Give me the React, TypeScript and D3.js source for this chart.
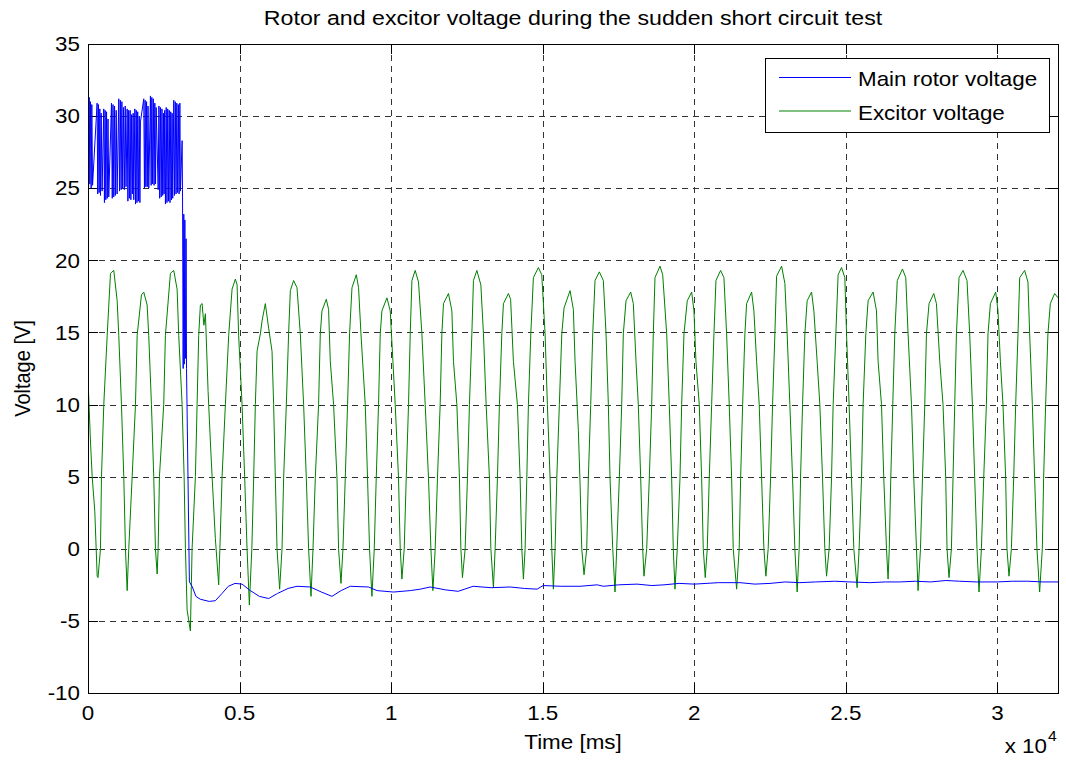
import React from "react";
import * as d3 from "d3";

const W = 1066;
const H = 769;
const M = { left: 88, right: 1058, top: 44, bottom: 693 };

const xTicks = [0, 5000, 10000, 15000, 20000, 25000, 30000];
const xTickLabels = ["0", "0.5", "1", "1.5", "2", "2.5", "3"];
const yTicks = [-10, -5, 0, 5, 10, 15, 20, 25, 30, 35];

const seriesNames = ["Main rotor voltage", "Excitor voltage"];
const seriesColors = ["#0000ff", "#008000"];

// Main rotor voltage [ms, V]
const rotorPoints: [number, number][] = [
  [0, 31.4], [20, 25.1], [40, 31.3], [60, 25.3], [82, 31.0], [104, 25.0], [126, 30.8], [150, 25.2],
  [300, 30.9], [322, 24.6], [345, 30.8], [368, 24.7], [390, 30.5], [412, 24.5], [435, 30.2], [465, 24.8],
  [520, 30.5], [542, 24.0], [565, 30.4], [588, 24.2], [612, 30.3], [636, 24.3], [660, 29.8], [685, 24.4],
  [775, 30.9], [800, 24.3], [825, 30.8], [850, 24.4], [876, 30.7], [902, 24.5], [930, 30.4], [960, 24.6],
  [1015, 31.2], [1040, 24.8], [1066, 31.1], [1092, 24.9], [1118, 31.0], [1145, 25.0], [1172, 30.6], [1200, 24.9], [1228, 30.7], [1255, 25.1],
  [1292, 30.5], [1316, 24.1], [1340, 30.4], [1365, 24.3], [1390, 30.4], [1415, 24.2], [1440, 30.1], [1465, 24.6], [1490, 30.2], [1510, 24.2],
  [1545, 30.5], [1568, 23.9], [1592, 30.4], [1615, 24.0], [1640, 30.3], [1665, 24.1], [1690, 30.0], [1712, 24.0], [1730, 29.6],
  [1840, 31.2], [1862, 25.0], [1885, 31.1], [1908, 25.1], [1932, 31.0], [1955, 25.1], [1980, 30.7], [2005, 25.0],
  [2060, 31.4], [2083, 25.2], [2106, 31.3], [2130, 25.3], [2155, 31.2], [2180, 25.2], [2205, 30.9], [2228, 25.3], [2248, 30.6],
  [2315, 24.9], [2340, 30.7], [2365, 24.3], [2390, 30.6], [2415, 24.4], [2440, 30.5], [2465, 24.5], [2490, 30.2], [2510, 24.6], [2530, 30.4],
  [2555, 23.9], [2580, 30.6], [2605, 24.0], [2630, 30.5], [2655, 24.1], [2680, 30.4], [2705, 24.0], [2730, 30.3], [2755, 24.2], [2775, 30.2], [2795, 24.3],
  [2830, 31.1], [2855, 24.5], [2880, 31.0], [2905, 24.6], [2930, 30.9], [2955, 24.7], [2980, 30.8], [3005, 24.6], [3030, 30.9], [3050, 24.8],
  [3105, 28.3], [3118, 24.9], [3140, 12.5], [3160, 23.2], [3175, 12.8], [3195, 22.8], [3215, 13.2],
  [3235, 21.5], [3250, 12.5], [3345, -2.3], [3434, -2.6], [3560, -3.3], [3708, -3.5], [4000, -3.65],
  [4202, -3.6], [4420, -3.1], [4631, -2.6], [4850, -2.4], [5082, -2.45], [5356, -2.9], [5650, -3.3],
  [5959, -3.45], [6250, -3.1], [6600, -2.75], [6895, -2.6], [7334, -2.65], [7700, -3.0], [8049, -3.3],
  [8350, -2.9], [8652, -2.6], [9255, -2.65], [9532, -2.9], [10079, -3.0], [10630, -2.9], [10959, -2.8],
  [11289, -2.65], [11800, -2.85], [12212, -2.95], [12706, -2.6], [13300, -2.7], [13925, -2.65],
  [14400, -2.75], [14815, -2.8], [15013, -2.55], [15600, -2.6], [16233, -2.6], [16800, -2.5],
  [17000, -2.6], [17500, -2.5], [18112, -2.45], [18600, -2.55], [19000, -2.5], [19500, -2.4],
  [20000, -2.45], [20800, -2.35], [21507, -2.35], [22000, -2.45], [22500, -2.4], [23000, -2.3],
  [23484, -2.35], [24000, -2.3], [24638, -2.25], [25133, -2.3], [25792, -2.35], [26300, -2.3],
  [26780, -2.3], [27300, -2.25], [27800, -2.3], [28300, -2.2], [28757, -2.25], [29300, -2.3],
  [30000, -2.3], [30500, -2.25], [31000, -2.25], [31500, -2.3], [32000, -2.3],
];

// Excitor voltage [ms, V]
const excitorPoints: [number, number][] = [
  [0, 15.6], [15, 11.0], [82, 7.4], [138, 5.0], [224, 2.6], [303, -1.9], [330, -2.0],
  [412, 0], [445, 5], [521, 10], [633, 14.8], [742, 19.1], [850, 19.3], [962, 17.2], [1015, 14.8], [1104, 10], [1180, 5], [1236, 0], [1292, -2.9],
  [1345, 0], [1457, 5], [1566, 10], [1622, 14.8], [1763, 17.6], [1839, 17.8], [1951, 16.9], [2004, 14.8], [2093, 10], [2169, 5], [2225, 0], [2281, -1.75],
  [2314, 0], [2357, 5], [2498, 10], [2554, 14.8], [2719, 19.1], [2828, 19.3], [2940, 18], [2993, 14.8], [3105, 10], [3171, 5], [3214, 0], [3270, -4.25], [3378, -5.7],
  [3434, 0], [3543, 5], [3599, 10], [3652, 14.8], [3708, 16.9], [3764, 17.0], [3823, 15.5], [3873, 16.3], [3962, 10.9], [4038, 7.4], [4094, 5], [4202, 0.7], [4311, -2.5],
  [4351, 0], [4423, 5], [4532, 10], [4641, 14.8], [4753, 18], [4862, 18.7], [4918, 18.3], [4970, 14.8], [5082, 10], [5168, 5], [5247, 0], [5323, -3.9],
  [5405, 0], [5465, 4.9], [5521, 10], [5577, 13.7], [5686, 14.9], [5742, 15.8], [5850, 17.0], [5959, 15.3], [6071, 13.7], [6124, 10], [6180, 4.9], [6236, 0], [6322, -2.8],
  [6401, 0], [6454, 4.9], [6543, 10], [6618, 14.9], [6675, 17.9], [6783, 18.6], [6895, 18.1], [7004, 14.9], [7113, 10], [7202, 4.9], [7278, 0], [7357, -3.3],
  [7423, 0], [7498, 4.9], [7607, 10], [7663, 14.9], [7719, 16.5], [7861, 17.3], [7937, 16.6], [7993, 13], [8102, 10], [8214, 4.9], [8266, 0], [8346, -2.4],
  [8411, 0], [8487, 4.9], [8563, 10], [8629, 14.9], [8708, 18.1], [8850, 19.0], [8926, 18.1], [9005, 14.9], [9146, 10], [9222, 4.9], [9288, 0], [9367, -3.3],
  [9443, 0], [9509, 4.9], [9585, 10], [9641, 14.9], [9697, 16.5], [9862, 17.4], [9970, 16.5], [10059, 13], [10135, 10], [10244, 4.9], [10300, 0], [10356, -2.1],
  [10432, 0], [10498, 4.9], [10574, 10], [10630, 14.9], [10686, 18.6], [10794, 19.3], [10903, 18.5], [11015, 14.9], [11124, 10], [11233, 4.9], [11312, 0], [11378, -2.9],
  [11454, 0], [11529, 4.9], [11618, 10], [11674, 14.9], [11727, 17.0], [11892, 17.7], [12004, 16.5], [12057, 13], [12169, 10], [12254, 4.9], [12301, 0], [12353, -2.0],
  [12442, 0], [12518, 4.9], [12584, 10], [12663, 14.9], [12716, 18.6], [12828, 19.3], [12960, 18.3], [13046, 14.9], [13135, 10], [13243, 4.9], [13290, 0], [13375, -2.7],
  [13431, 0], [13507, 4.9], [13573, 10], [13652, 14.9], [13705, 17], [13870, 17.7], [13942, 17.3], [14034, 13], [14166, 10], [14255, 4.9], [14311, 0], [14364, -2.1],
  [14420, 0], [14476, 4.9], [14529, 10], [14608, 14.9], [14693, 18.8], [14858, 19.5], [14970, 19.0], [15079, 14.9], [15155, 10], [15244, 4.9], [15300, 0], [15353, -2.8],
  [15409, 0], [15465, 4.9], [15550, 10], [15630, 14.9], [15705, 16.7], [15903, 17.9], [16012, 16.6], [16068, 13], [16177, 8.2], [16233, 4.5], [16289, 0], [16364, -1.8],
  [16453, 0], [16506, 4.9], [16585, 10], [16651, 14.9], [16727, 18.6], [16869, 19.2], [17001, 18.6], [17090, 14.9], [17166, 10], [17222, 4.9], [17311, 0], [17386, -3.0],
  [17442, 0], [17528, 4.9], [17607, 10], [17660, 14.9], [17749, 17.2], [17904, 17.8], [17990, 17.0], [18079, 13], [18154, 10], [18233, 4.9], [18299, 0], [18342, -1.9],
  [18431, 0], [18517, 4.9], [18596, 10], [18649, 14.9], [18705, 18.8], [18870, 19.6], [18959, 19.0], [19091, 14.9], [19176, 10], [19255, 4.9], [19308, 0], [19364, -2.8],
  [19440, 0], [19529, 4.9], [19585, 10], [19661, 14.9], [19770, 17.2], [19915, 17.8], [19990, 16.5], [20056, 13], [20165, 10], [20244, 4.9], [20297, 0], [20363, -2.0],
  [20429, 0], [20495, 4.9], [20574, 10], [20650, 14.9], [20716, 18.6], [20870, 19.3], [20979, 18.8], [21068, 14.9], [21154, 10], [21233, 4.9], [21286, 0], [21398, -2.8],
  [21483, 0], [21530, 4.9], [21596, 10], [21671, 14.9], [21727, 17], [21892, 17.8], [21968, 16.5], [22057, 13], [22143, 10], [22222, 4.9], [22297, 0], [22363, -1.9],
  [22439, 0], [22518, 4.9], [22584, 10], [22660, 14.9], [22716, 18.9], [22881, 19.6], [22990, 18.4], [23065, 14.9], [23154, 10], [23243, 4.9], [23319, 0], [23395, -3.0],
  [23461, 0], [23507, 4.9], [23573, 10], [23649, 14.9], [23725, 17.2], [23870, 17.8], [23946, 16.5], [24054, 13], [24143, 10], [24232, 4.9], [24308, 0], [24364, -1.9],
  [24450, 0], [24529, 4.9], [24582, 10], [24671, 14.9], [24746, 19.0], [24859, 19.5], [24968, 18.8], [25024, 14.9], [25109, 10], [25188, 4.9], [25264, 0], [25373, -2.7],
  [25439, 0], [25518, 4.9], [25571, 10], [25660, 14.9], [25736, 17.2], [25900, 17.8], [26012, 16.5], [26065, 13], [26177, 10], [26253, 4.9], [26342, 0], [26394, -2.1],
  [26434, 0], [26483, 4.9], [26549, 10], [26615, 14.9], [26698, 18.6], [26869, 19.4], [26978, 18.8], [27054, 14.9], [27166, 10], [27242, 4.9], [27331, 0], [27384, -2.9],
  [27463, 0], [27529, 4.9], [27605, 10], [27660, 14.9], [27746, 17], [27901, 17.7], [27990, 17.0], [28099, 13], [28207, 10], [28296, 4.9], [28339, 0], [28405, -2.0],
  [28484, 0], [28537, 4.9], [28593, 10], [28649, 14.9], [28735, 18.8], [28866, 19.3], [28998, 18.6], [29087, 14.9], [29176, 10], [29252, 4.9], [29328, 0], [29394, -3.0],
  [29473, 0], [29549, 4.9], [29638, 10], [29691, 14.9], [29770, 17], [29945, 17.8], [30020, 16.5], [30099, 13], [30185, 10], [30274, 4.9], [30317, 0], [30383, -1.9],
  [30462, 0], [30538, 4.9], [30604, 10], [30680, 14.9], [30736, 18.8], [30900, 19.3], [31009, 18.5], [31065, 14.9], [31154, 10], [31229, 4.9], [31305, 0], [31394, -3.0],
  [31483, 0], [31526, 4.9], [31592, 10], [31668, 14.9], [31747, 17], [31889, 17.7], [32000, 17.4],
];

const FONT = "'Liberation Sans', Arial, Helvetica, sans-serif";
const FS = 20;
const SX = 1.12; // horizontal stretch of the reference rendering

function T({
  x,
  y,
  size = FS,
  anchor = "start",
  rotate = 0,
  dy,
  children,
}: {
  x: number;
  y: number;
  size?: number;
  anchor?: string;
  rotate?: number;
  dy?: string;
  children: React.ReactNode;
}) {
  return (
    <text
      transform={`translate(${x},${y}) scale(${SX},1)${rotate ? ` rotate(${rotate})` : ""}`}
      textAnchor={anchor}
      fontSize={size}
      dy={dy}
      fill="#000"
    >
      {children}
    </text>
  );
}

export default function App() {
  const x = d3.scaleLinear().domain([0, 32000]).range([M.left, M.right]);
  const y = d3.scaleLinear().domain([-10, 35]).range([M.bottom, M.top]);
  const line = d3
    .line<[number, number]>()
    .x((d) => x(d[0]))
    .y((d) => y(d[1]));
  const tickLen = 9.7;
  const px = (v: number) => Math.round(v) + 0.5;

  return (
    <svg
      width={W}
      height={H}
      style={{ position: "absolute", left: 0, top: 0, background: "#fff" }}
      fontFamily={FONT}
    >
      <rect x={0} y={0} width={W} height={H} fill="#fff" />
      {/* grid */}
      <g stroke="#333" strokeWidth={1} strokeDasharray="6,5" shapeRendering="crispEdges">
        {xTicks.map((t) => (
          <line key={"gx" + t} x1={px(x(t))} x2={px(x(t))} y1={M.top} y2={M.bottom} />
        ))}
        {yTicks.map((t) => (
          <line key={"gy" + t} x1={M.left} x2={M.right} y1={px(y(t))} y2={px(y(t))} />
        ))}
      </g>
      {/* ticks */}
      <g stroke="#000" strokeWidth={1} shapeRendering="crispEdges">
        {xTicks.map((t) => (
          <g key={"tx" + t}>
            <line x1={px(x(t))} x2={px(x(t))} y1={M.bottom} y2={M.bottom - tickLen} />
            <line x1={px(x(t))} x2={px(x(t))} y1={M.top} y2={M.top + tickLen} />
          </g>
        ))}
        {yTicks.map((t) => (
          <g key={"ty" + t}>
            <line x1={M.left} x2={M.left + tickLen} y1={px(y(t))} y2={px(y(t))} />
            <line x1={M.right} x2={M.right - tickLen} y1={px(y(t))} y2={px(y(t))} />
          </g>
        ))}
      </g>
      {/* data */}
      <defs>
        <clipPath id="plotclip">
          <rect x={M.left} y={M.top} width={M.right - M.left} height={M.bottom - M.top} />
        </clipPath>
      </defs>
      <g clipPath="url(#plotclip)" fill="none" strokeWidth={1}>
        <path d={line(excitorPoints) || ""} stroke={seriesColors[1]} />
        <path d={line(rotorPoints) || ""} stroke={seriesColors[0]} />
      </g>
      {/* box */}
      <rect
        x={M.left + 0.5}
        y={M.top + 0.5}
        width={M.right - M.left}
        height={M.bottom - M.top}
        fill="none"
        stroke="#000"
        strokeWidth={1}
        shapeRendering="crispEdges"
      />
      {/* tick labels */}
      {xTicks.map((t, i) => (
        <T key={"lx" + t} x={x(t)} y={720} anchor="middle">
          {xTickLabels[i]}
        </T>
      ))}
      {yTicks.map((t) => (
        <T key={"ly" + t} x={80} y={y(t)} dy="0.36em" anchor="end">
          {t}
        </T>
      ))}
      {/* title & labels */}
      <T x={(M.left + M.right) / 2} y={25} anchor="middle" size={20.7}>
        Rotor and excitor voltage during the sudden short circuit test
      </T>
      <T x={(M.left + M.right) / 2} y={749} anchor="middle">
        Time [ms]
      </T>
      <T x={30} y={(M.top + M.bottom) / 2} anchor="middle" rotate={-90}>
        Voltage [V]
      </T>
      <T x={1047} y={753} anchor="end">
        x 10
      </T>
      <T x={1048} y={741} size={14}>
        4
      </T>
      {/* legend */}
      <g>
        <rect x={765.5} y={58.5} width={284} height={74} fill="#fff" stroke="#000" strokeWidth={1} shapeRendering="crispEdges" />
        {seriesNames.map((name, i) => (
          <g key={name}>
            <line x1={779} x2={851} y1={77.5 + i * 33.5} y2={77.5 + i * 33.5} stroke={seriesColors[i]} strokeWidth={1} />
            <T x={858} y={86 + i * 33.5}>
              {name}
            </T>
          </g>
        ))}
      </g>
    </svg>
  );
}
